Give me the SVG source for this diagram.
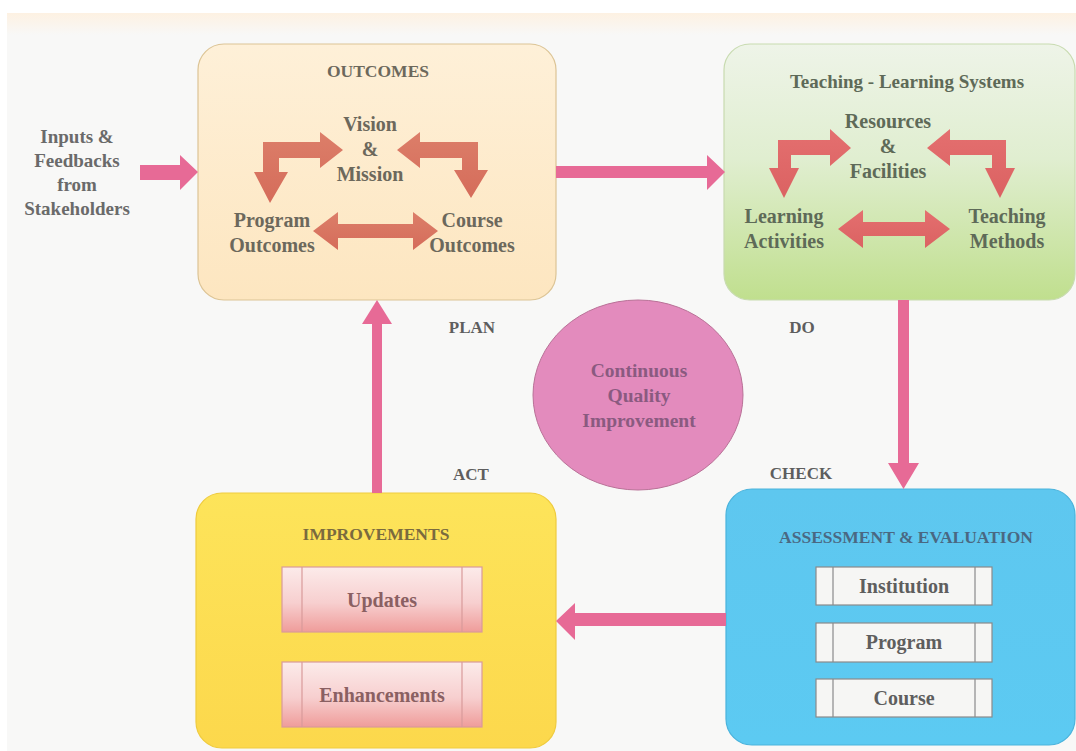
<svg xmlns="http://www.w3.org/2000/svg" width="1076" height="751" viewBox="0 0 1076 751">
  <style>
    .t { font-family: "Liberation Serif", "Times New Roman", serif; font-weight: bold; text-anchor: middle; }
    .side { font-size: 19px; fill: #6a6a6a; }
    .phase { font-size: 17px; fill: #5e5e5e; }
    .head { font-size: 17.5px; }
    .lbl { font-size: 20px; }
    .oc { fill: #6c685c; }
    .tl { fill: #5e6a58; }
    .conn { fill: #e76a96; }
    .bar-line { stroke-width: 1.2; }
  </style>
  <defs>
    <linearGradient id="bgTop" x1="0" y1="0" x2="0" y2="1">
      <stop offset="0" stop-color="#fdf1e2"/>
      <stop offset="1" stop-color="#f8f8f7"/>
    </linearGradient>
    <linearGradient id="gOut" x1="0" y1="0" x2="0" y2="1">
      <stop offset="0" stop-color="#fef0d8"/>
      <stop offset="1" stop-color="#fde6c0"/>
    </linearGradient>
    <linearGradient id="gTeach" x1="0" y1="0" x2="0" y2="1">
      <stop offset="0" stop-color="#eef4e8"/>
      <stop offset="0.45" stop-color="#e0eed0"/>
      <stop offset="1" stop-color="#c0df8e"/>
    </linearGradient>
    <linearGradient id="gImp" x1="0" y1="0" x2="0" y2="1">
      <stop offset="0" stop-color="#fde45a"/>
      <stop offset="1" stop-color="#fcd84c"/>
    </linearGradient>
    <linearGradient id="gAss" x1="0" y1="0" x2="0" y2="1">
      <stop offset="0" stop-color="#5ec7ef"/>
      <stop offset="1" stop-color="#5ccaf2"/>
    </linearGradient>
    <linearGradient id="gPinkBar" x1="0" y1="0" x2="0" y2="1">
      <stop offset="0" stop-color="#fcebea"/>
      <stop offset="0.55" stop-color="#f7cfcf"/>
      <stop offset="1" stop-color="#ef9c9a"/>
    </linearGradient>
    <linearGradient id="gSalmon" x1="0" y1="0" x2="0" y2="1">
      <stop offset="0" stop-color="#dc7e69"/>
      <stop offset="1" stop-color="#d56c5a"/>
    </linearGradient>
    <linearGradient id="gRed" x1="0" y1="0" x2="0" y2="1">
      <stop offset="0" stop-color="#e46f6f"/>
      <stop offset="1" stop-color="#db6262"/>
    </linearGradient>
  </defs>

  <!-- page -->
  <rect x="0" y="0" width="1076" height="751" fill="#ffffff"/>
  <rect x="7" y="13" width="1069" height="738" fill="#f8f8f7"/>
  <rect x="7" y="13" width="1069" height="22" fill="url(#bgTop)"/>

  <!-- PLAN: outcomes -->
  <g id="outcomes">
    <rect x="198" y="44" width="358" height="256" rx="26" fill="url(#gOut)" stroke="#dcc495" stroke-width="1.2"/>
    <text class="t head oc" x="378" y="77">OUTCOMES</text>
    <path d="M270,203 L254,172 L263,172 L263,142 L320,142 L320,132 L343,150 L320,168 L320,158 L279,158 L279,172 L288,172 Z" fill="url(#gSalmon)"/>
    <path d="M397,150 L420,132 L420,142 L478,142 L478,170 L488,170 L471,198 L454,170 L462,170 L462,158 L420,158 L420,168 Z" fill="url(#gSalmon)"/>
    <path d="M313,231 L338,212 L338,224 L413,224 L413,212 L438,231 L413,250 L413,238 L338,238 L338,250 Z" fill="url(#gSalmon)"/>
    <text class="t lbl oc" x="370" y="131">Vision</text>
    <text class="t lbl oc" x="370" y="156">&amp;</text>
    <text class="t lbl oc" x="370" y="181">Mission</text>
    <text class="t lbl oc" x="272" y="227">Program</text>
    <text class="t lbl oc" x="272" y="252">Outcomes</text>
    <text class="t lbl oc" x="472" y="227">Course</text>
    <text class="t lbl oc" x="472" y="252">Outcomes</text>
  </g>

  <!-- DO: teaching-learning systems -->
  <g id="teaching">
    <rect x="724" y="44" width="351" height="256" rx="26" fill="url(#gTeach)" stroke="#c8dbb0" stroke-width="1.2"/>
    <text class="t tl" x="907" y="88" font-size="19">Teaching - Learning Systems</text>
    <path d="M784,198 L769,168 L778,168 L778,140 L830,140 L830,129 L851,148 L830,166 L830,155 L791,155 L791,168 L799,168 Z" fill="url(#gRed)"/>
    <path d="M927,148 L950,129 L950,140 L1006,140 L1006,168 L1015,168 L1000,198 L985,168 L992,168 L992,155 L950,155 L950,166 Z" fill="url(#gRed)"/>
    <path d="M838,229 L863,210 L863,222 L925,222 L925,210 L950,229 L925,248 L925,236 L863,236 L863,248 Z" fill="url(#gRed)"/>
    <text class="t lbl tl" x="888" y="128">Resources</text>
    <text class="t lbl tl" x="888" y="153">&amp;</text>
    <text class="t lbl tl" x="888" y="178">Facilities</text>
    <text class="t lbl tl" x="784" y="223">Learning</text>
    <text class="t lbl tl" x="784" y="248">Activities</text>
    <text class="t lbl tl" x="1007" y="223">Teaching</text>
    <text class="t lbl tl" x="1007" y="248">Methods</text>
  </g>

  <!-- ACT: improvements -->
  <g id="improvements">
    <rect x="196" y="493" width="360" height="255" rx="26" fill="url(#gImp)" stroke="#efcb3e" stroke-width="1.2"/>
    <text class="t head" x="376" y="540" fill="#7a6a3e">IMPROVEMENTS</text>
    <g id="updates">
      <rect x="282" y="567" width="200" height="65" fill="url(#gPinkBar)" stroke="#d99a9a" stroke-width="1.2"/>
      <line class="bar-line" x1="302" y1="567" x2="302" y2="632" stroke="#d99a9a"/>
      <line class="bar-line" x1="462" y1="567" x2="462" y2="632" stroke="#d99a9a"/>
      <text class="t lbl" x="382" y="607" fill="#8a6062">Updates</text>
    </g>
    <g id="enhancements">
      <rect x="282" y="662" width="200" height="65" fill="url(#gPinkBar)" stroke="#d99a9a" stroke-width="1.2"/>
      <line class="bar-line" x1="302" y1="662" x2="302" y2="727" stroke="#d99a9a"/>
      <line class="bar-line" x1="462" y1="662" x2="462" y2="727" stroke="#d99a9a"/>
      <text class="t lbl" x="382" y="702" fill="#8a6062">Enhancements</text>
    </g>
  </g>

  <!-- CHECK: assessment & evaluation -->
  <g id="assessment">
    <rect x="726" y="489" width="349" height="256" rx="26" fill="url(#gAss)" stroke="#4ab3dc" stroke-width="1.2"/>
    <text class="t head" x="906" y="543" fill="#4a6882">ASSESSMENT &amp; EVALUATION</text>
    <g id="institution">
      <rect x="816" y="567" width="176" height="38" fill="#f6f6f4" stroke="#8a8a8a" stroke-width="1.2"/>
      <line class="bar-line" x1="833" y1="567" x2="833" y2="605" stroke="#8a8a8a"/>
      <line class="bar-line" x1="975" y1="567" x2="975" y2="605" stroke="#8a8a8a"/>
      <text class="t lbl" x="904" y="593" fill="#5e5e5e">Institution</text>
    </g>
    <g id="program">
      <rect x="816" y="623" width="176" height="39" fill="#f6f6f4" stroke="#8a8a8a" stroke-width="1.2"/>
      <line class="bar-line" x1="833" y1="623" x2="833" y2="662" stroke="#8a8a8a"/>
      <line class="bar-line" x1="975" y1="623" x2="975" y2="662" stroke="#8a8a8a"/>
      <text class="t lbl" x="904" y="649" fill="#5e5e5e">Program</text>
    </g>
    <g id="course">
      <rect x="816" y="679" width="176" height="38" fill="#f6f6f4" stroke="#8a8a8a" stroke-width="1.2"/>
      <line class="bar-line" x1="833" y1="679" x2="833" y2="717" stroke="#8a8a8a"/>
      <line class="bar-line" x1="975" y1="679" x2="975" y2="717" stroke="#8a8a8a"/>
      <text class="t lbl" x="904" y="705" fill="#5e5e5e">Course</text>
    </g>
  </g>

  <!-- centre circle -->
  <g id="cqi">
    <ellipse cx="638" cy="395" rx="105" ry="95" fill="#e38bbd" stroke="#b97197" stroke-width="1"/>
    <text class="t" x="639" y="377" font-size="19.5" fill="#8a5a80">Continuous</text>
    <text class="t" x="639" y="402" font-size="19.5" fill="#8a5a80">Quality</text>
    <text class="t" x="639" y="427" font-size="19.5" fill="#8a5a80">Improvement</text>
  </g>

  <!-- stakeholder inputs -->
  <g id="inputs">
    <text class="t side" x="77" y="143">Inputs &amp;</text>
    <text class="t side" x="77" y="167">Feedbacks</text>
    <text class="t side" x="77" y="191">from</text>
    <text class="t side" x="77" y="215">Stakeholders</text>
  </g>

  <!-- cycle phase labels -->
  <g id="phases">
    <text class="t phase" x="472" y="333">PLAN</text>
    <text class="t phase" x="802" y="333">DO</text>
    <text class="t phase" x="801" y="479">CHECK</text>
    <text class="t phase" x="471" y="480">ACT</text>
  </g>

  <!-- connectors -->
  <g id="connectors">
    <path class="conn" d="M140,165 L180,165 L180,155 L198,172 L180,190 L180,180 L140,180 Z"/>
    <path class="conn" d="M556,166 L707,166 L707,155 L725,172 L707,190 L707,178 L556,178 Z"/>
    <path class="conn" d="M898,300 L898,463 L888,463 L903.5,489 L919,463 L909,463 L909,300 Z"/>
    <path class="conn" d="M726,613 L575,613 L575,603 L556,621 L575,640 L575,626 L726,626 Z"/>
    <path class="conn" d="M372,493 L372,324 L362,324 L377,300 L392,324 L382,324 L382,493 Z"/>
  </g>
</svg>
